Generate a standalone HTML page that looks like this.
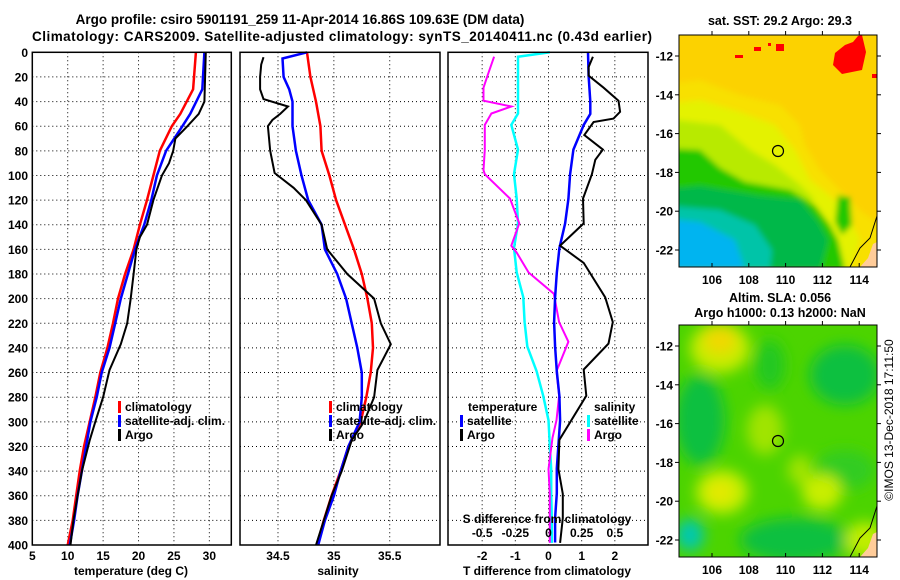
<!DOCTYPE html>
<html><head><meta charset="utf-8">
<style>
html,body{margin:0;padding:0;background:#fff;}
svg{display:block;font-family:"Liberation Sans",Arial,sans-serif;font-weight:bold;}
</style></head>
<body>
<svg id="chart" width="900" height="580" viewBox="0 0 900 580" xmlns="http://www.w3.org/2000/svg">
<defs>
<filter id="blur3" x="-20%" y="-20%" width="140%" height="140%"><feGaussianBlur stdDeviation="3"/></filter>
<filter id="blur6" x="-30%" y="-30%" width="160%" height="160%"><feGaussianBlur stdDeviation="7"/></filter>
<clipPath id="clipTop"><rect x="679" y="35" width="198" height="232"/></clipPath>
<clipPath id="clipBot"><rect x="679" y="325" width="198" height="232"/></clipPath>
</defs>
<text x="300" y="24" font-size="13.5" text-anchor="middle">Argo profile: csiro 5901191_259 11-Apr-2014 16.86S 109.63E (DM data)</text>
<text x="342" y="41" font-size="13.5" text-anchor="middle" textLength="620">Climatology: CARS2009. Satellite-adjusted climatology: synTS_20140411.nc (0.43d earlier)</text>

<!-- top map -->
<g>
<text x="780" y="25" font-size="12.5" text-anchor="middle">sat. SST: 29.2 Argo: 29.3</text>
<g clip-path="url(#clipTop)">
<rect x="679" y="35" width="198" height="232" fill="#fcd200"/>
<g filter="url(#blur3)">
<polygon points="660,85 700,80 740,95 780,105 800,125 805,145 820,170 840,190 862,212 877,222 890,270 660,270" fill="#f8e000"/>
<polygon points="660,105 700,100 740,112 775,125 795,150 810,180 835,200 850,220 860,240 850,270 660,270" fill="#e4f200"/>
<polygon points="660,118 720,125 750,150 775,165 800,185 815,200 790,205 660,205" fill="#b8ea00"/>
<polygon points="660,148 700,150 720,168 745,182 790,190 815,205 830,225 838,240 845,270 660,270" fill="#22c800"/>
<polygon points="838,195 850,198 852,225 842,235 835,222" fill="#22c800"/>
<polygon points="660,190 700,186 760,196 800,200 818,222 828,240 820,270 660,270" fill="#00b848"/>
<polygon points="660,205 720,210 755,225 772,250 770,270 660,270" fill="#00c4a8"/>
<polygon points="660,218 700,222 735,240 745,270 660,270" fill="#00b4f0"/>
</g>
<polygon points="835,53 845,45 853,42 858,36 862,35 866,52 862,70 852,72 842,74 833,65" fill="#ff0000"/>
<rect x="735" y="55" width="8" height="3" fill="#ff0000"/>
<rect x="754" y="47" width="7" height="4" fill="#ff0000"/>
<rect x="776" y="44" width="8" height="7" fill="#ff0000"/>
<rect x="768" y="43" width="3" height="3" fill="#ff0000"/>
<rect x="872" y="74" width="5" height="4" fill="#ff0000"/>
<polygon points="868,258 873,244 877,242 877,267 860,267" fill="#ffcc99"/>
<polyline points="850,267 860,248 870,238 877,216" fill="none" stroke="#000" stroke-width="1"/>
</g>
<circle cx="778" cy="151" r="5.5" fill="none" stroke="#000" stroke-width="1.2"/>
<rect x="679" y="35" width="198" height="232" fill="none" stroke="#000" stroke-width="1"/>
</g>

<!-- bottom map -->
<g>
<text x="780" y="302" font-size="12.5" text-anchor="middle">Altim. SLA: 0.056</text>
<text x="780" y="317" font-size="12.5" text-anchor="middle">Argo h1000: 0.13 h2000: NaN</text>
<g clip-path="url(#clipBot)">
<rect x="679" y="325" width="198" height="232" fill="#4cd400"/>
<g filter="url(#blur6)">
<ellipse cx="700" cy="420" rx="25" ry="45" fill="#10c040"/>
<ellipse cx="845" cy="375" rx="35" ry="30" fill="#10c040"/>
<ellipse cx="795" cy="540" rx="55" ry="22" fill="#10c040"/>
<ellipse cx="770" cy="365" rx="15" ry="25" fill="#20c820"/>
<ellipse cx="845" cy="470" rx="30" ry="20" fill="#30cc20"/>
<ellipse cx="720" cy="348" rx="30" ry="25" fill="#c8ec00"/>
<ellipse cx="720" cy="340" rx="16" ry="14" fill="#f0d800"/>
<ellipse cx="722" cy="492" rx="26" ry="22" fill="#c8ee00"/>
<ellipse cx="720" cy="492" rx="12" ry="10" fill="#e8e800"/>
<ellipse cx="822" cy="492" rx="20" ry="18" fill="#c8ee00"/>
<ellipse cx="765" cy="430" rx="18" ry="25" fill="#a0e400"/>
<ellipse cx="800" cy="470" rx="12" ry="15" fill="#a0e400"/>
<ellipse cx="690" cy="535" rx="14" ry="16" fill="#00c8b0"/>
<ellipse cx="865" cy="540" rx="20" ry="18" fill="#c0ee00"/>
</g>
<polygon points="868,548 873,534 877,532 877,557 860,557" fill="#ffcc99"/>
<polyline points="850,557 860,538 870,528 877,506" fill="none" stroke="#000" stroke-width="1"/>
</g>
<circle cx="778" cy="441" r="5.5" fill="none" stroke="#000" stroke-width="1.2"/>
<rect x="679" y="325" width="198" height="232" fill="none" stroke="#000" stroke-width="1"/>
</g>
<text transform="translate(893,420) rotate(-90)" font-size="12" font-weight="normal" text-anchor="middle">©IMOS 13-Dec-2018 17:11:50</text>

<g id="plots"></g>
</svg>
<script>
// ---------- data ----------
const depthTicks = [0,20,40,60,80,100,120,140,160,180,200,220,240,260,280,300,320,340,360,380,400];
const tempTicks = [5,10,15,20,25,30];
const salTicks = [34.5,35,35.5];
const tdiffTicks = [-2,-1,0,1,2];
const sdiffTickLabels = ["-0.5","-0.25","0","0.25","0.5"];

const climTDepth = [0,30,50,60,80,100,120,140,160,180,200,220,240,260,280,300,320,340,360,380,400];
const climT = [28.1,27.7,25.9,24.7,23.0,22.1,21.2,20.2,19.3,18.1,17.1,16.4,15.6,14.6,13.9,13.1,12.3,11.7,11.2,10.7,10.0];
const satT = [29.3,29.0,27.3,26.2,23.9,22.6,21.8,20.8,19.5,18.5,17.5,16.7,15.9,14.8,14.1,13.2,12.6,12.0,11.4,10.9,10.3];
const argoTDepth = [0,40,50,60,70,80,90,100,120,140,150,160,180,200,220,237,258,280,300,315,340,360,380,400];
const argoT = [29.5,29.3,28.5,26.9,25.2,24.9,24.3,23.3,22.1,21.2,20.2,19.7,19.3,18.9,18.4,17.5,15.9,15.0,13.9,13.1,12.0,11.4,10.8,10.4];

const climSDepth = [0,20,40,60,80,100,120,140,160,180,200,220,240,260,280,300,320,340,360,380,400];
const climS = [34.76,34.79,34.84,34.88,34.89,34.96,35.02,35.10,35.18,35.25,35.30,35.34,35.35,35.33,35.29,35.24,35.13,35.06,34.98,34.91,34.85];
const satSDepth = [0,5,20,30,40,60,80,100,120,140,160,180,200,220,240,260,280,300,320,340,360,380,400];
const satS = [34.76,34.54,34.55,34.60,34.63,34.63,34.66,34.71,34.77,34.89,34.92,35.03,35.11,35.16,35.21,35.25,35.25,35.23,35.13,35.06,35.00,34.92,34.86];
const argoSDepth = [4,10,20,30,38,44,50,55,60,80,98,110,120,140,160,180,195,200,220,237,258,280,300,315,340,360,380,400];
const argoS = [34.37,34.35,34.34,34.34,34.37,34.59,34.52,34.45,34.41,34.43,34.47,34.64,34.75,34.89,34.94,35.12,35.30,35.36,35.42,35.51,35.39,35.36,35.27,35.16,35.07,34.98,34.91,34.84];

const satTdDepth = [0,19,40,50,59,79,99,119,139,159,179,199,219,239,259,279,299,319,338,358,378,398];
const satTd = [1.19,1.21,1.26,1.26,1.06,0.75,0.65,0.60,0.50,0.33,0.25,0.20,0.17,0.20,0.25,0.33,0.35,0.30,0.25,0.25,0.20,0.20];
const argoTdDepth = [3.6,12,19,28.7,39.3,48.3,53.8,56.6,67.2,79,87.3,99,118.8,138.9,157,171,198.9,219,236.5,257.5,278.9,314.6,338.4,358.4,378.2,398.3];
const argoTd = [1.34,1.21,1.21,1.66,2.11,2.16,1.96,1.36,1.08,1.64,1.41,1.31,1.04,1.06,0.35,1.06,1.71,1.94,1.81,1.06,1.14,0.33,0.30,0.43,0.43,0.35];
const satSdDepth = [0,3.6,19,39.3,49.7,58.9,79,99,118.8,138.9,159,178.8,198.9,219,238.8,258.9,278.9,298.7,318.8,338.4,358.4,378.2,398.3];
const satSd = [0.01,-0.23,-0.23,-0.23,-0.23,-0.28,-0.23,-0.26,-0.24,-0.23,-0.26,-0.24,-0.19,-0.18,-0.16,-0.09,-0.04,0,0.01,0.02,0.02,0.025,0.025];
const argoSdDepth = [3.6,19,28.7,39.3,44,49.7,58.9,79,95.7,99,118.8,138.9,157,162.6,178.8,196,219,235,258.9,278.9,298.7,313,338.4,358.4,398.3];
const argoSd = [-0.41,-0.46,-0.49,-0.49,-0.28,-0.43,-0.48,-0.48,-0.49,-0.48,-0.29,-0.22,-0.28,-0.24,-0.15,0.04,0.08,0.15,0.06,0.08,0.06,0.03,0,0.01,0.01];

// ---------- layout ----------
const NS = "http://www.w3.org/2000/svg";
const root = document.getElementById('plots');
const Y0 = 52.3, Y1 = 545;
const yOf = d => Y0 + (d/400)*(Y1-Y0);
const P1 = {x0:32.3, x1:231.3, v0:5, v1:33.1};
const P2 = {x0:240, x1:440, v0:34.16, v1:35.95};
const P3 = {x0:448, x1:648, v0:-3.03, v1:3.0};
const sx = (p,v) => p.x0 + (v-p.v0)/(p.v1-p.v0)*(p.x1-p.x0);

function mk(tag, attrs, parent){
  const e = document.createElementNS(NS, tag);
  for (const k in attrs) e.setAttribute(k, attrs[k]);
  (parent||root).appendChild(e);
  return e;
}
function txt(x,y,s,size,anchor,parent){
  const t = mk('text',{x:x,y:y,'font-size':size,'text-anchor':anchor||'middle'},parent);
  t.textContent = s; return t;
}
function panel(p, name){
  const g = mk('g',{});
  
  
  depthTicks.forEach(d=>{
    if(d===0||d===400) return;
    const l = mk('line',{x1:p.x0,x2:p.x1,y1:yOf(d),y2:yOf(d),stroke:'#000','stroke-width':1,'stroke-dasharray':'1,3'},g);
    
    
  });
  return g;
}
function vgrid(g,p,vals){
  vals.forEach(v=>{
    const l = mk('line',{x1:sx(p,v),x2:sx(p,v),y1:Y0,y2:Y1,stroke:'#000','stroke-width':1,'stroke-dasharray':'1,3'},g);
    
    
  });
}
function frame(g,p){
  const r = mk('rect',{x:p.x0,y:Y0,width:p.x1-p.x0,height:Y1-Y0,fill:'none',stroke:'#000','stroke-width':1.5},g);
  
  
}
function line(g,p,vals,depths,color,w,name){
  const pts = vals.map((v,i)=>sx(p,v).toFixed(1)+','+yOf(depths[i]).toFixed(1)).join(' ');
  const pl = mk('polyline',{points:pts,fill:'none',stroke:color,'stroke-width':w,'stroke-linejoin':'miter'},g);
  
  
}
function legend(g,x,y,items){
  items.forEach((it,i)=>{
    const m = mk('rect',{x:x,y:y+i*14-10,width:3,height:12,fill:it[0]},g);
    
    
    const t = txt(x+7,y+i*14,it[1],12,'start',g);
    
    
  });
}

// Panel 1: temperature
const g1 = panel(P1,'temperature-panel');
vgrid(g1,P1,tempTicks.slice(1));
line(g1,P1,climT,climTDepth,'#ff0000',2.5,'climatology-temperature-line');
line(g1,P1,satT,climTDepth,'#0000ff',2.5,'satellite-temperature-line');
line(g1,P1,argoT,argoTDepth,'#000000',2,'argo-temperature-line');
frame(g1,P1);
depthTicks.forEach(d=>{
  const t = txt(28,yOf(d)+4.5,String(d),12,'end',g1);
  
  
});
tempTicks.forEach(v=>{
  const t = txt(sx(P1,v),560,String(v),12,'middle',g1);
  
  
});
const a1 = txt(131,575,'temperature (deg C)',12,'middle',g1);


legend(g1,118,411,[['#ff0000','climatology'],['#0000ff','satellite-adj. clim.'],['#000','Argo']]);

// Panel 2: salinity
const g2 = panel(P2,'salinity-panel');
vgrid(g2,P2,salTicks);
line(g2,P2,climS,climSDepth,'#ff0000',2.5,'climatology-salinity-line');
line(g2,P2,satS,satSDepth,'#0000ff',2.5,'satellite-salinity-line');
line(g2,P2,argoS,argoSDepth,'#000000',2,'argo-salinity-line');
frame(g2,P2);
salTicks.forEach(v=>{
  const t = txt(sx(P2,v),560,String(v),12,'middle',g2);
  
  
});
const a2 = txt(338,575,'salinity',12,'middle',g2);


legend(g2,329,411,[['#ff0000','climatology'],['#0000ff','satellite-adj. clim.'],['#000','Argo']]);

// Panel 3: differences
const g3 = panel(P3,'difference-panel');
vgrid(g3,P3,tdiffTicks);
line(g3,P3,satSd.map(v=>v*4),satSdDepth,'#00ffff',2.5,'satellite-salinity-difference-line');
line(g3,P3,argoSd.map(v=>v*4),argoSdDepth,'#ff00ff',2,'argo-salinity-difference-line');
line(g3,P3,satTd,satTdDepth,'#0000ff',2.5,'satellite-temperature-difference-line');
line(g3,P3,argoTd,argoTdDepth,'#000000',2,'argo-temperature-difference-line');
frame(g3,P3);
tdiffTicks.forEach(v=>{
  const t = txt(sx(P3,v),560,String(v),12,'middle',g3);
  
  
});
sdiffTickLabels.forEach((s,i)=>{
  const t = txt(sx(P3,tdiffTicks[i]),537,s,12,'middle',g3);
  
  
});
const a3 = txt(547,523,'S difference from climatology',12,'middle',g3);


const a4 = txt(547,575,'T difference from climatology',12,'middle',g3);


const lt = txt(468,411,'temperature',12,'start',g3);


const ls = txt(594,411,'salinity',12,'start',g3);


legend(g3,460,425,[['#0000ff','satellite'],['#000','Argo']]);
legend(g3,587,425,[['#00ffff','satellite'],['#ff00ff','Argo']]);

// map axes
const mapLonTicks = [106,108,110,112,114];
const mapLatTicks = [-12,-14,-16,-18,-20,-22];
function mapAxes(top, bottom, lat0){
  const g = mk('g',{});
  
  
  mapLonTicks.forEach(lo=>{
    const x = 712 + (lo-106)*18.4;
    mk('line',{x1:x,x2:x,y1:bottom,y2:bottom-4,stroke:'#000'},g);
    mk('line',{x1:x,x2:x,y1:top,y2:top-4,stroke:'#000'},g);
    const t = txt(x,bottom+17,String(lo),12,'middle',g);
    
    
  });
  mapLatTicks.forEach(la=>{
    const y = lat0 + (-12-la)*19.4;
    mk('line',{x1:679,x2:675,y1:y,y2:y,stroke:'#000'},g);
    mk('line',{x1:877,x2:881,y1:y,y2:y,stroke:'#000'},g);
    const t = txt(673,y+4.5,String(la),12,'end',g);
    
    
  });
}
mapAxes(35,267,56);
mapAxes(325,557,346);
</script>
</body></html>
